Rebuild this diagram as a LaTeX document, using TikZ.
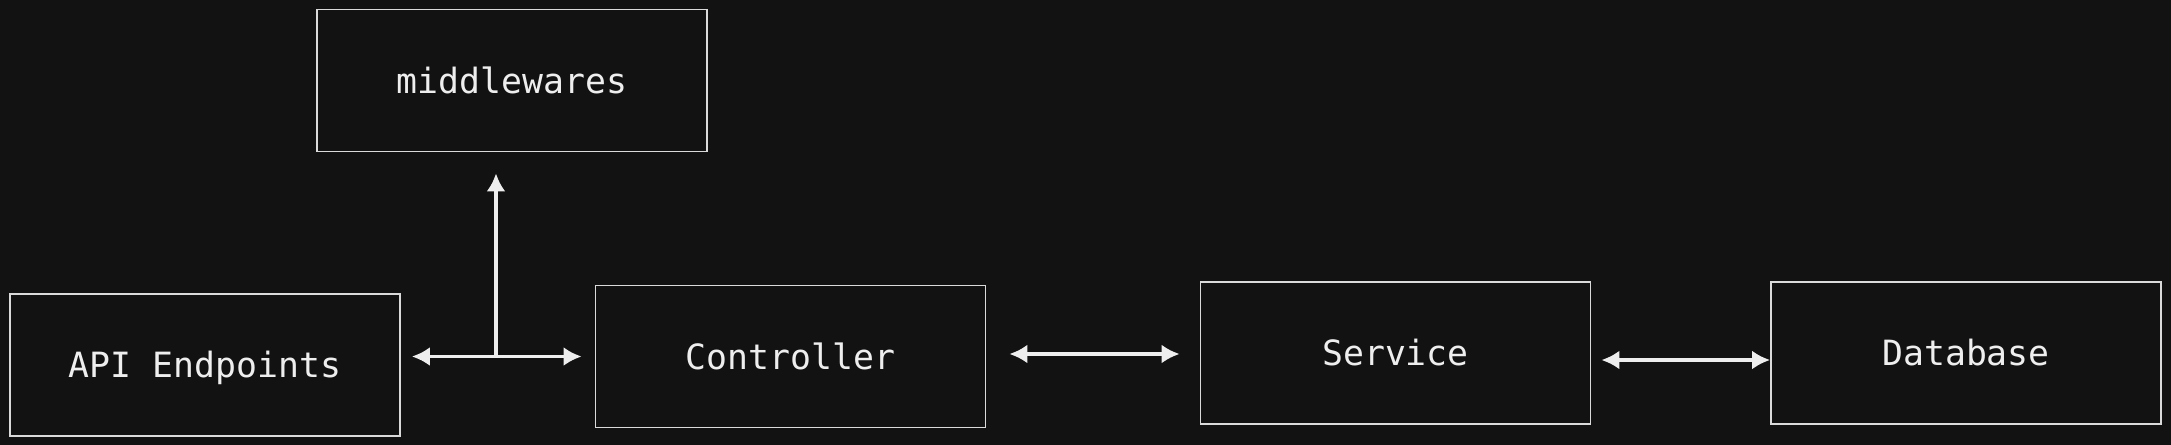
\documentclass[tikz,border=0pt]{standalone}
\usepackage{fontspec}
\setmonofont{DejaVu Sans Mono}
\usetikzlibrary{positioning, arrows.meta}

\definecolor{bgdark}{HTML}{121212}
\definecolor{inkline}{HTML}{DADADA}
\definecolor{inktext}{HTML}{EEEEEE}

\begin{document}
\begin{tikzpicture}[
				x=1cm, y=1cm,
				block/.style={draw=inkline, line width=0.5pt, fill=bgdark, text=inktext,
					minimum width=3.9cm, minimum height=1.42cm, inner sep=0pt,
					text height=0.33cm, text depth=0.08cm,
					font=\ttfamily\fontsize{9.9}{12}\selectfont},
				link/.style={draw=inktext, line width=1.1pt,
					{Latex[length=0.18cm, width=0.19cm]}-{Latex[length=0.18cm, width=0.19cm]}},
				uplink/.style={draw=inktext, line width=1.1pt,
					-{Latex[length=0.18cm, width=0.19cm]}}]
				\useasboundingbox (0,0) rectangle (21.71,-4.44);
				\fill[bgdark] (-0.1,0.1) rectangle (21.81,-4.54);
				\node[block] (api) at (2.05,-3.65) {API Endpoints};
				\node[block] (mw) at (5.12,-0.805) {middlewares};
				\node[block] (ctrl) at (7.905,-3.565) {Controller};
				\node[block] (svc) at (13.955,-3.53) {Service};
				\node[block] (db) at (19.66,-3.53) {Database};
				\coordinate (junc) at (4.96,-3.57);
				\draw[link, shorten <=0.11cm, shorten >=0.13cm] (api.east |- ctrl.west) -- (ctrl.west);
				\draw[uplink, shorten >=0.21cm] (junc) -- (junc |- mw.south);
				\draw[link, shorten <=0.23cm, shorten >=0.2cm] (ctrl.east |- 0,-3.54) -- (svc.west |- 0,-3.54);
				\draw[link, shorten <=0.1cm] (svc.east |- 0,-3.6) -- (db.west |- 0,-3.6);
			\end{tikzpicture}
\end{document}
